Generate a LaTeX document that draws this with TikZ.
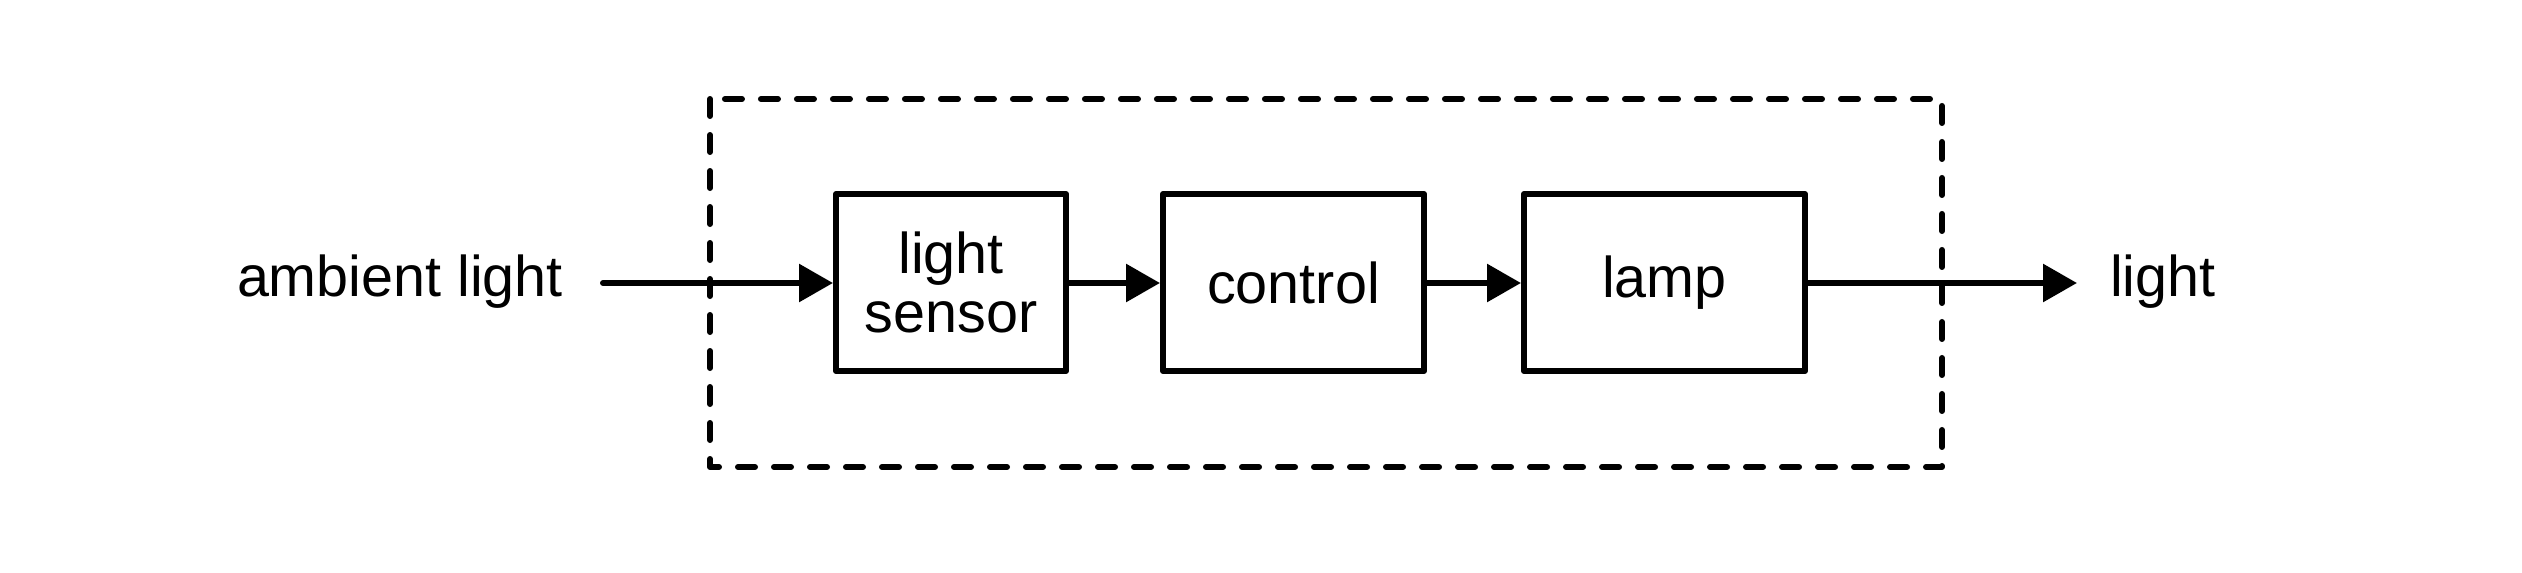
\documentclass[tikz,border=0pt]{standalone}
\usepackage{fontspec}
\setmainfont{Liberation Sans}
\usetikzlibrary{arrows.meta}
\tikzset{
  blockbox/.style={draw=black, line width=1.2pt, line join=round, inner sep=0pt, align=center,
    font=\fontsize{11.5pt}{11.8pt}\selectfont},
  flow/.style={line width=1.2pt, line cap=round, -{Triangle[length=6.8pt,width=7.4pt]}},
  frame/.style={line width=1.2pt, line cap=round, line join=round, dash pattern=on 3.4pt off 3.8pt},
  label/.style={inner sep=0pt, font=\fontsize{11.5pt}{11.8pt}\selectfont}
}
\begin{document}
\begin{tikzpicture}[x=0.2pt,y=-0.2pt]
  \useasboundingbox (0,0) rectangle (2522,573);
  \draw[frame] (710,99) rectangle (1942,467);
  \node[blockbox, minimum width=46pt, minimum height=35.4pt] (sensor) at (951,282.5) {light\\sensor};
  \node[blockbox, minimum width=52.2pt, minimum height=35.4pt] (control) at (1293.5,282.5) {control};
  \node[blockbox, minimum width=56.2pt, minimum height=35.4pt] (lamp) at (1664.5,282.5) {lamp};
  \node[label, anchor=base west] (amb) at (236,296) {ambient light};
  \node[label, anchor=base west] (outl) at (2109,296) {light};
  \coordinate (in) at (603,283);
  \coordinate (out) at (2077,283);
  \draw[flow] (in) -- (sensor.west |- in);
  \draw[flow] (sensor.east |- in) -- (control.west |- in);
  \draw[flow] (control.east |- in) -- (lamp.west |- in);
  \draw[flow] (lamp.east |- in) -- (out);
\end{tikzpicture}
\end{document}
